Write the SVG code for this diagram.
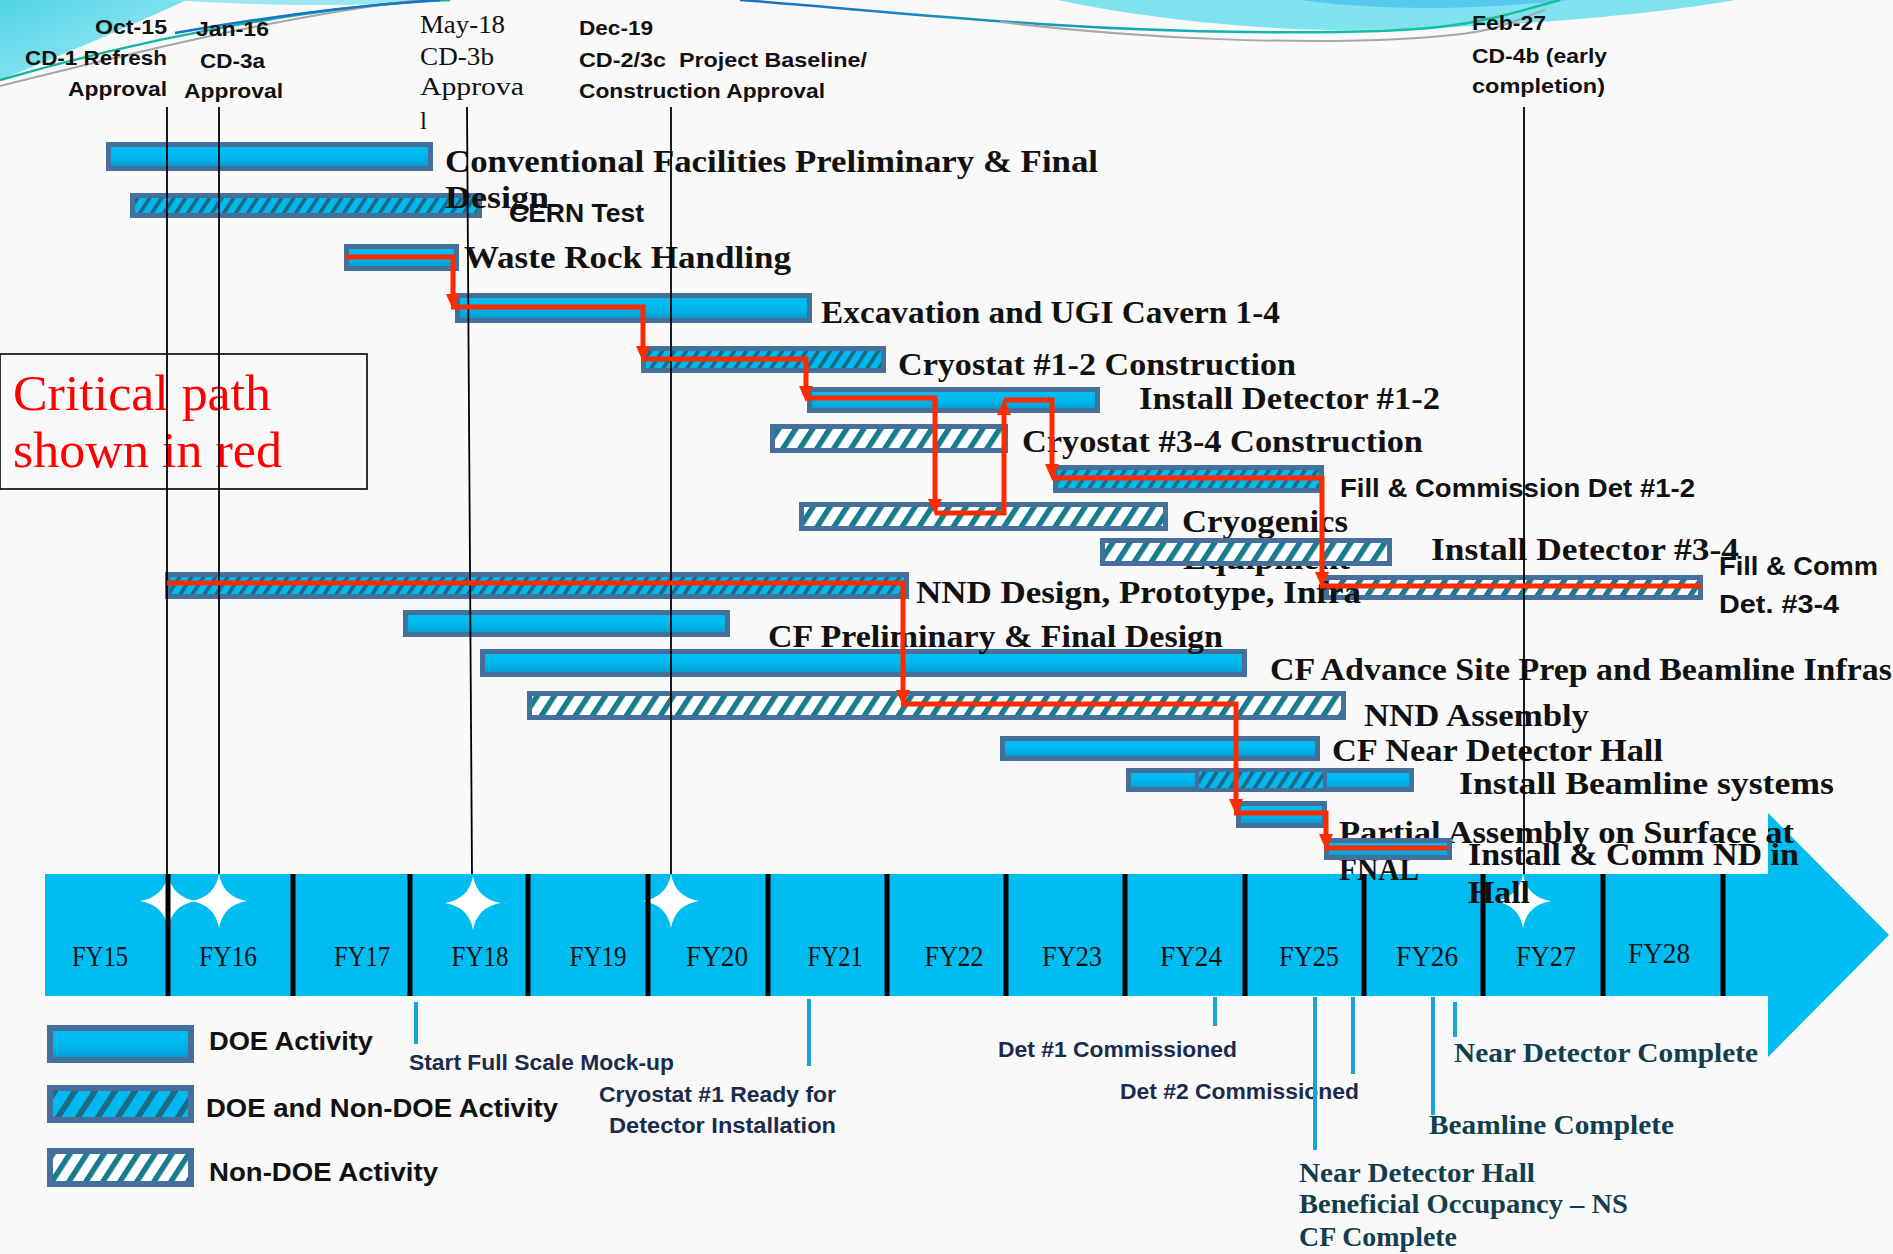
<svg xmlns="http://www.w3.org/2000/svg" width="1893" height="1254" viewBox="0 0 1893 1254">
<defs>
<style>
.hs{font-family:"Liberation Sans",Arial,sans-serif;font-weight:bold;font-size:21px;fill:#111}
.hr{font-family:"Liberation Serif","Times New Roman",serif;font-size:25px;fill:#111}
.lb{font-family:"Liberation Serif","Times New Roman",serif;font-weight:bold;font-size:31px;fill:#111}
.ls{font-family:"Liberation Sans",Arial,sans-serif;font-weight:bold;font-size:25px;fill:#111}
.fy{font-family:"Liberation Serif","Times New Roman",serif;font-size:30px;fill:#111;text-anchor:middle}
.doe{fill:url(#gDoe);stroke:#46709c;stroke-width:5}
.mix{fill:url(#pMix);stroke:#46709c;stroke-width:5}
.non{fill:url(#pNon);stroke:#46709c;stroke-width:5}
.vl{stroke:#000;stroke-width:1.8}
.dv{stroke:#000;stroke-width:5}
.cp{fill:none;stroke:#ff2a00;stroke-width:5;marker-end:url(#arr)}
.cpn{fill:none;stroke:#ff2a00;stroke-width:5}
.tk{stroke:#1ba3d6;stroke-width:4}
.ms{font-family:"Liberation Sans",Arial,sans-serif;font-weight:bold;font-size:22px;fill:#1c2b4b}
.mt{font-family:"Liberation Serif","Times New Roman",serif;font-weight:bold;font-size:27px;fill:#123e4e}
.lg{font-family:"Liberation Sans",Arial,sans-serif;font-weight:bold;font-size:26px;fill:#111}
</style>
<linearGradient id="gDoe" x1="0" y1="0" x2="0" y2="1">
<stop offset="0" stop-color="#00c0f4"/><stop offset="0.5" stop-color="#00b8ee"/><stop offset="1" stop-color="#0599cc"/>
</linearGradient>
<linearGradient id="gTri" x1="0" y1="0" x2="1" y2="1">
<stop offset="0" stop-color="#4fd3e6"/><stop offset="1" stop-color="#a9eef6"/>
</linearGradient>
<linearGradient id="gLine" x1="0" y1="0" x2="1" y2="0">
<stop offset="0" stop-color="#1b6ec8"/><stop offset="0.6" stop-color="#0fb6b0"/><stop offset="1" stop-color="#12c596"/>
</linearGradient>
<pattern id="pMix" patternUnits="userSpaceOnUse" width="12" height="12" patternTransform="skewX(-33)">
<rect width="12" height="12" fill="#00b9ef"/><rect width="4.5" height="12" fill="#1d6a86"/>
</pattern>
<pattern id="pMixL" patternUnits="userSpaceOnUse" width="20" height="20" patternTransform="skewX(-33)">
<rect width="20" height="20" fill="#00b9ef"/><rect width="7" height="20" fill="#1d6a86"/>
</pattern>
<pattern id="pNon" patternUnits="userSpaceOnUse" width="17" height="17" patternTransform="skewX(-33)">
<rect width="17" height="17" fill="#ffffff"/><rect width="6.5" height="17" fill="#177c8e"/>
</pattern>
<marker id="arr" markerUnits="userSpaceOnUse" markerWidth="16" markerHeight="14" refX="8" refY="7" orient="auto">
<path d="M0,0 L16,7 L0,14 Z" fill="#ff2a00"/>
</marker>
<path id="star" d="M0,-27 Q4,-4 28,0 Q4,4 0,27 Q-4,4 -28,0 Q-4,-4 0,-27 Z" fill="#ffffff"/>
</defs>

<rect width="1893" height="1254" fill="#f9f9f9"/>

<g id="decoration">
<path d="M0,0 L187,0 Q95,42 0,80 Z" fill="url(#gTri)"/>
<path d="M170,0 Q320,10 450,0 Z" fill="#9be6f1"/>
<path d="M1058,0 C1150,20 1280,32 1362,30 C1500,28 1650,15 1735,0 Z" fill="#80e2ef"/>
<path d="M1300,0 Q1420,16 1570,0 Z" fill="#55c9ee"/>
<path d="M0,80 C120,45 300,6 450,0" fill="none" stroke="#12b5a0" stroke-width="2.5"/>
<path d="M0,86 C120,56 280,16 420,0" fill="none" stroke="#a5a5a5" stroke-width="2"/>
<path d="M175,33 C260,18 360,5 440,0" fill="none" stroke="#1a73c9" stroke-width="2.5"/>
<path d="M740,0 C900,12 1050,30 1250,32 S1470,25 1560,0" fill="none" stroke="url(#gLine)" stroke-width="2.5"/>
<path d="M1000,22 C1150,40 1300,44 1400,39 S1500,25 1545,10" fill="none" stroke="#a8a8a8" stroke-width="2"/>
</g>

<g id="timeline">
<rect x="45" y="874" width="1724" height="122" fill="#00bdf1"/>
<polygon points="1768,813 1889,935 1768,1057" fill="#00bdf1"/>
<use href="#star" x="168" y="901"/>
<use href="#star" x="219" y="901"/>
<use href="#star" x="473" y="903"/>
<use href="#star" x="671" y="901"/>
<use href="#star" x="1523" y="901"/>
<g class="dv">
<line x1="168" y1="874" x2="168" y2="996"/><line x1="293" y1="874" x2="293" y2="996"/>
<line x1="410" y1="874" x2="410" y2="996"/><line x1="528" y1="874" x2="528" y2="996"/>
<line x1="648" y1="874" x2="648" y2="996"/><line x1="768" y1="874" x2="768" y2="996"/>
<line x1="887" y1="874" x2="887" y2="996"/><line x1="1006" y1="874" x2="1006" y2="996"/>
<line x1="1125" y1="874" x2="1125" y2="996"/><line x1="1245" y1="874" x2="1245" y2="996"/>
<line x1="1364" y1="874" x2="1364" y2="996"/><line x1="1483" y1="874" x2="1483" y2="996"/>
<line x1="1603" y1="874" x2="1603" y2="996"/><line x1="1723" y1="874" x2="1723" y2="996"/>
</g>
<text class="fy" x="100" y="966" textLength="56" lengthAdjust="spacingAndGlyphs">FY15</text>
<text class="fy" x="228" y="966" textLength="58" lengthAdjust="spacingAndGlyphs">FY16</text>
<text class="fy" x="362" y="966" textLength="56" lengthAdjust="spacingAndGlyphs">FY17</text>
<text class="fy" x="480" y="966" textLength="57" lengthAdjust="spacingAndGlyphs">FY18</text>
<text class="fy" x="598" y="966" textLength="57" lengthAdjust="spacingAndGlyphs">FY19</text>
<text class="fy" x="717" y="966" textLength="62" lengthAdjust="spacingAndGlyphs">FY20</text>
<text class="fy" x="835" y="966" textLength="55" lengthAdjust="spacingAndGlyphs">FY21</text>
<text class="fy" x="954" y="966" textLength="59" lengthAdjust="spacingAndGlyphs">FY22</text>
<text class="fy" x="1072" y="966" textLength="60" lengthAdjust="spacingAndGlyphs">FY23</text>
<text class="fy" x="1191" y="966" textLength="62" lengthAdjust="spacingAndGlyphs">FY24</text>
<text class="fy" x="1309" y="966" textLength="60" lengthAdjust="spacingAndGlyphs">FY25</text>
<text class="fy" x="1427" y="966" textLength="62" lengthAdjust="spacingAndGlyphs">FY26</text>
<text class="fy" x="1546" y="966" textLength="60" lengthAdjust="spacingAndGlyphs">FY27</text>
<text class="fy" x="1659" y="963" textLength="62" lengthAdjust="spacingAndGlyphs">FY28</text>
</g>

<g id="legend-critical">
<rect x="0" y="354" width="367" height="135" fill="none" stroke="#000" stroke-width="1.6"/>
<text x="13" y="410" font-family="Liberation Serif, Times New Roman, serif" font-size="50" fill="#ff0000" textLength="258" lengthAdjust="spacingAndGlyphs">Critical path</text>
<text x="13" y="467" font-family="Liberation Serif, Times New Roman, serif" font-size="50" fill="#ff0000" textLength="269" lengthAdjust="spacingAndGlyphs">shown in red</text>
</g>

<g id="n2">
<rect class="mix" x="132.5" y="195.5" width="347" height="20"/>
<text class="ls" x="509" y="222" textLength="135" lengthAdjust="spacingAndGlyphs">CERN Test</text>
</g>
<g id="n1">
<rect class="doe" x="108.5" y="144.5" width="322" height="24"/>
<text class="lb" x="445" y="172" textLength="653" lengthAdjust="spacingAndGlyphs">Conventional Facilities Preliminary &amp; Final</text>
<text class="lb" x="445" y="208" textLength="104" lengthAdjust="spacingAndGlyphs">Design</text>
</g>
<g id="n3">
<rect class="doe" x="346.5" y="246.5" width="110" height="22"/>
<text class="lb" x="464" y="268" textLength="327" lengthAdjust="spacingAndGlyphs">Waste Rock Handling</text>
</g>
<g id="n4">
<rect class="doe" x="457.5" y="295.5" width="352" height="25"/>
<text class="lb" x="821" y="323" textLength="459" lengthAdjust="spacingAndGlyphs">Excavation and UGI Cavern 1-4</text>
</g>
<g id="n5">
<rect class="mix" x="643.5" y="348.5" width="240" height="22"/>
<text class="lb" x="898" y="375" textLength="398" lengthAdjust="spacingAndGlyphs">Cryostat #1-2 Construction</text>
</g>
<g id="n6">
<rect class="doe" x="809.5" y="389.5" width="288" height="21"/>
<text class="lb" x="1139" y="409" textLength="301" lengthAdjust="spacingAndGlyphs">Install Detector #1-2</text>
</g>
<g id="n7">
<rect class="non" x="772.5" y="426.5" width="233" height="24"/>
<text class="lb" x="1022" y="452" textLength="401" lengthAdjust="spacingAndGlyphs">Cryostat #3-4 Construction</text>
</g>
<g id="n8">
<rect class="mix" x="1055.5" y="467.5" width="266" height="23"/>
<text class="ls" x="1340" y="497" textLength="355" lengthAdjust="spacingAndGlyphs">Fill &amp; Commission Det #1-2</text>
</g>
<g id="n9">
<rect class="non" x="801.5" y="504.5" width="364" height="24"/>
<text class="lb" x="1182" y="532" textLength="166" lengthAdjust="spacingAndGlyphs">Cryogenics</text>
<text class="lb" x="1183" y="569" textLength="167" lengthAdjust="spacingAndGlyphs">Equipment</text>
</g>
<g id="n10">
<rect class="non" x="1102.5" y="540.5" width="287" height="23"/>
<text class="lb" x="1431" y="560" textLength="308" lengthAdjust="spacingAndGlyphs">Install Detector #3-4</text>
</g>
<g id="n11">
<rect class="non" x="1326.5" y="577.5" width="374" height="20"/>
<text class="ls" x="1719" y="575" textLength="159" lengthAdjust="spacingAndGlyphs">Fill &amp; Comm</text>
<text class="ls" x="1719" y="613" textLength="120" lengthAdjust="spacingAndGlyphs">Det. #3-4</text>
</g>
<g id="n12">
<rect class="mix" x="167.5" y="574.5" width="739" height="22"/>
<text class="lb" x="916" y="603" textLength="445" lengthAdjust="spacingAndGlyphs">NND Design, Prototype, Infra</text>
</g>
<g id="n14">
<rect class="doe" x="482.5" y="651.5" width="762" height="23"/>
<text class="lb" x="1270" y="680" textLength="622" lengthAdjust="spacingAndGlyphs">CF Advance Site Prep and Beamline Infras</text>
</g>
<g id="n13">
<rect class="doe" x="405.5" y="612.5" width="322" height="22"/>
<text class="lb" x="768" y="647" textLength="455" lengthAdjust="spacingAndGlyphs">CF Preliminary &amp; Final Design</text>
</g>
<g id="n15">
<rect class="non" x="529.5" y="693.5" width="814" height="24"/>
<text class="lb" x="1364" y="726" textLength="225" lengthAdjust="spacingAndGlyphs">NND Assembly</text>
</g>
<g id="n16">
<rect class="doe" x="1002.5" y="738.5" width="315" height="20"/>
<text class="lb" x="1332" y="761" textLength="331" lengthAdjust="spacingAndGlyphs">CF Near Detector Hall</text>
</g>
<g id="n17">
<rect class="doe" x="1128.5" y="770.5" width="283" height="19"/>
<rect x="1197" y="772" width="128" height="16" fill="url(#pMix)"/>
<line x1="1197" y1="771" x2="1197" y2="790" stroke="#46709c" stroke-width="4"/>
<line x1="1325" y1="771" x2="1325" y2="790" stroke="#46709c" stroke-width="4"/>
<text class="lb" x="1459" y="794" textLength="375" lengthAdjust="spacingAndGlyphs">Install Beamline systems</text>
</g>
<g id="n18">
<rect class="doe" x="1238.5" y="803.5" width="86" height="22"/>
<text class="lb" x="1339" y="843" textLength="455" lengthAdjust="spacingAndGlyphs">Partial Assembly on Surface at</text>
<text class="lb" x="1339" y="880" textLength="80" lengthAdjust="spacingAndGlyphs">FNAL</text>
</g>
<g id="n19">
<rect class="doe" x="1326.5" y="840.5" width="123" height="17"/>
<text class="lb" x="1468" y="865" textLength="331" lengthAdjust="spacingAndGlyphs">Install &amp; Comm ND in</text>
<text class="lb" x="1468" y="903" textLength="62" lengthAdjust="spacingAndGlyphs">Hall</text>
</g>

<g id="milestones-top">
<line class="vl" x1="167" y1="107" x2="167" y2="874"/>
<line class="vl" x1="219" y1="107" x2="219" y2="874"/>
<line class="vl" x1="467" y1="107" x2="472" y2="874"/>
<line class="vl" x1="671" y1="107" x2="671" y2="874"/>
<line class="vl" x1="1524" y1="107" x2="1524" y2="874"/>
<text class="hs" x="95" y="34" textLength="72" lengthAdjust="spacingAndGlyphs">Oct-15</text>
<text class="hs" x="25" y="65" textLength="142" lengthAdjust="spacingAndGlyphs">CD-1 Refresh</text>
<text class="hs" x="68" y="96" textLength="99" lengthAdjust="spacingAndGlyphs">Approval</text>
<text class="hs" x="196" y="36" textLength="73" lengthAdjust="spacingAndGlyphs">Jan-16</text>
<text class="hs" x="200" y="68" textLength="65" lengthAdjust="spacingAndGlyphs">CD-3a</text>
<text class="hs" x="184" y="98" textLength="99" lengthAdjust="spacingAndGlyphs">Approval</text>
<text class="hr" x="420" y="33" textLength="85" lengthAdjust="spacingAndGlyphs">May-18</text>
<text class="hr" x="420" y="65" textLength="74" lengthAdjust="spacingAndGlyphs">CD-3b</text>
<text class="hr" x="420" y="95" textLength="104" lengthAdjust="spacingAndGlyphs">Approva</text>
<text class="hr" x="420" y="129">l</text>
<text class="hs" x="579" y="35" textLength="74" lengthAdjust="spacingAndGlyphs">Dec-19</text>
<text class="hs" x="579" y="67" textLength="288" lengthAdjust="spacingAndGlyphs" xml:space="preserve">CD-2/3c  Project Baseline/</text>
<text class="hs" x="579" y="98" textLength="246" lengthAdjust="spacingAndGlyphs">Construction Approval</text>
<text class="hs" x="1472" y="30" textLength="74" lengthAdjust="spacingAndGlyphs">Feb-27</text>
<text class="hs" x="1472" y="63" textLength="135" lengthAdjust="spacingAndGlyphs">CD-4b (early</text>
<text class="hs" x="1472" y="93" textLength="133" lengthAdjust="spacingAndGlyphs">completion)</text>
</g>

<g id="connectors">
<path class="cp" d="M346,257 H453 V302"/>
<path class="cp" d="M451,307 H643 V354"/>
<path class="cp" d="M641,359 H806 V394"/>
<path class="cp" d="M806,398 H935 V507"/>
<path class="cp" d="M935,513 H1004 V407"/>
<path class="cp" d="M1004,400 H1052 V472"/>
<path class="cp" d="M1052,478 H1322 V580"/>
<path class="cpn" d="M1320,586 H1701"/>
<path class="cp" d="M167,583 H903 V698"/>
<path class="cp" d="M901,704 H1236 V807"/>
<path class="cp" d="M1234,813 H1326 V842"/>
<path class="cpn" d="M1324,848 H1448"/>
</g>

<g id="legend">
<rect x="50" y="1028" width="141" height="32" fill="url(#gDoe)" stroke="#46709c" stroke-width="6"/>
<text class="lg" x="209" y="1050" textLength="164" lengthAdjust="spacingAndGlyphs">DOE Activity</text>
<rect x="50" y="1088" width="141" height="32" fill="url(#pMixL)" stroke="#46709c" stroke-width="6"/>
<text class="lg" x="206" y="1117" textLength="352" lengthAdjust="spacingAndGlyphs">DOE and Non-DOE Activity</text>
<rect x="50" y="1151" width="141" height="33" fill="url(#pNon)" stroke="#46709c" stroke-width="6"/>
<text class="lg" x="209" y="1181" textLength="229" lengthAdjust="spacingAndGlyphs">Non-DOE Activity</text>
</g>

<g id="milestones-bottom">
<text class="ms" x="409" y="1070" textLength="265" lengthAdjust="spacingAndGlyphs">Start Full Scale Mock-up</text>
<text class="ms" x="599" y="1102" textLength="237" lengthAdjust="spacingAndGlyphs">Cryostat #1 Ready for</text>
<text class="ms" x="609" y="1133" textLength="227" lengthAdjust="spacingAndGlyphs">Detector Installation</text>
<text class="ms" x="998" y="1057" textLength="239" lengthAdjust="spacingAndGlyphs">Det #1 Commissioned</text>
<text class="ms" x="1120" y="1099" textLength="239" lengthAdjust="spacingAndGlyphs">Det #2 Commissioned</text>
<text class="mt" x="1454" y="1062" textLength="304" lengthAdjust="spacingAndGlyphs">Near Detector Complete</text>
<text class="mt" x="1429" y="1134" textLength="245" lengthAdjust="spacingAndGlyphs">Beamline Complete</text>
<text class="mt" x="1299" y="1182" textLength="236" lengthAdjust="spacingAndGlyphs">Near Detector Hall</text>
<text class="mt" x="1299" y="1213" textLength="329" lengthAdjust="spacingAndGlyphs">Beneficial Occupancy – NS</text>
<text class="mt" x="1299" y="1246" textLength="158" lengthAdjust="spacingAndGlyphs">CF Complete</text>
<line class="tk" x1="416" y1="1002" x2="416" y2="1044"/>
<line class="tk" x1="809" y1="999" x2="809" y2="1066"/>
<line class="tk" x1="1215" y1="997" x2="1215" y2="1026"/>
<line class="tk" x1="1315" y1="997" x2="1315" y2="1150"/>
<line class="tk" x1="1353" y1="997" x2="1353" y2="1074"/>
<line class="tk" x1="1433" y1="997" x2="1433" y2="1115"/>
<line class="tk" x1="1455" y1="1002" x2="1455" y2="1037"/>
</g>
</svg>
